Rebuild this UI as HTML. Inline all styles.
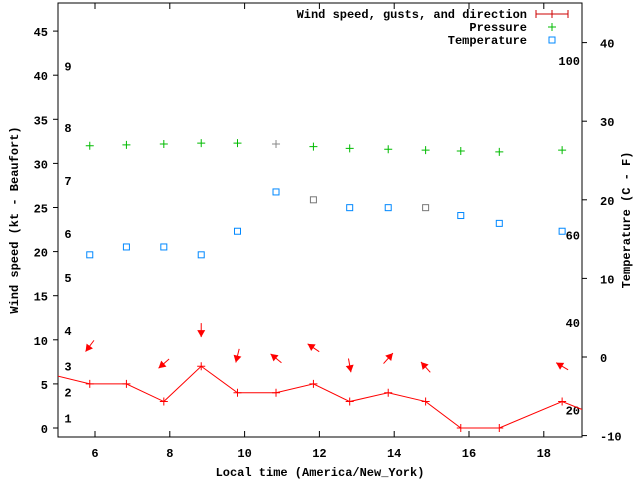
<!DOCTYPE html>
<html><head><meta charset="utf-8"><style>
body{margin:0;background:#fff}
svg{display:block;font-family:"Liberation Mono",monospace;font-weight:bold;font-size:12px}
</style></head><body>
<svg id="c" width="640" height="480" viewBox="0 0 640 480"></svg>
<script>
const hours=[5.86,6.84,7.84,8.84,9.81,10.84,11.84,12.81,13.84,14.84,15.78,16.81,18.49];
const wind=[5,5,3,7,4,4,5,3,4,3,0,0,3];
const pressure=[32.0,32.1,32.2,32.3,32.3,32.2,31.9,31.7,31.6,31.5,31.4,31.3,31.5];
const tempC=[13,14,14,13,16,21,20,19,19,19,18,17,16];
const arrowHours=[5.86,7.84,8.84,9.81,10.84,11.84,12.81,13.84,14.84,18.49];
const arrowKt=[9.3,7.3,11.1,8.2,7.9,9.1,7.1,7.9,6.9,7.0];
const arrowDir=[217,229,180,194,309,304,170,42,318,301];
const lineStart=[4.9,6.0];
const lineEnd=[19.2,1.8];
const xTicks=[6,8,10,12,14,16,18];
const yTicks=[0,5,10,15,20,25,30,35,40,45];
const y2Ticks=[-10,0,10,20,30,40];
const beaufortKt=[1.1,4,7,11,17,22,28,34,41];
const fahrenheit=[20,40,60,100];

const L=58,R=582,T=3,B=437;
const X=h=>95+(h-6)*37.4;
const Y=k=>428-k*8.82;
const Y2=c=>357-c*7.86;
const svg=document.getElementById('c');
const NS='http://www.w3.org/2000/svg';
function mk(t,a,p){const e=document.createElementNS(NS,t);for(const k in a)e.setAttribute(k,a[k]);(p||svg).appendChild(e);return e;}
function txt(x,y,s,anchor,p){const e=mk('text',{x:x,y:y,'text-anchor':anchor||'middle'},p);e.textContent=s;return e;}

const frame=mk('rect',{x:L,y:T,width:R-L,height:B-T,fill:'none',stroke:'#000','stroke-width':1});


xTicks.forEach(h=>{const x=X(h);
 mk('line',{x1:x,y1:B,x2:x,y2:B-6,stroke:'#000'});mk('line',{x1:x,y1:T,x2:x,y2:T+6,stroke:'#000'});
 const t=txt(x,B+20,String(h));});
yTicks.forEach(k=>{const y=Y(k);
 mk('line',{x1:L-5,y1:y,x2:L,y2:y,stroke:'#000'});
 const t=txt(L-10,y+5,String(k),'end');});
y2Ticks.forEach(c=>{const y=Y2(c);
 mk('line',{x1:R,y1:y,x2:R+5,y2:y,stroke:'#000'});
 const t=txt(600,y+5,String(c),'start');});
beaufortKt.forEach((k,i)=>{const t=txt(68,Y(k)+4,String(i+1));
 });
fahrenheit.forEach(f=>{const c=(f-32)*5/9;const t=txt(580,Y2(c)+5,String(f),'end');
 });

let a=txt(320,476,'Local time (America/New_York)');
a=txt(0,0,'Wind speed (kt - Beaufort)');a.setAttribute('transform','translate(18,220) rotate(-90)');
a=txt(0,0,'Temperature (C - F)');a.setAttribute('transform','translate(630,220) rotate(-90)');

// clip
const cp=mk('clipPath',{id:'cl'});mk('rect',{x:L,y:T,width:R-L,height:B-T},cp);
const g=mk('g',{'clip-path':'url(#cl)'});
// wind line
const pts=[[lineStart[0],lineStart[1]]].concat(hours.map((h,i)=>[h,wind[i]])).concat([[lineEnd[0],lineEnd[1]]]);
const wl=mk('polyline',{points:pts.map(p=>X(p[0])+','+Y(p[1])).join(' '),fill:'none',stroke:'#f00','stroke-width':1},g);

function plus(x,y,col,name){const e=mk('path',{d:`M${x-4},${y}h8M${x},${y-4}v8`,stroke:col,'stroke-width':1},g);
 }
hours.forEach((h,i)=>plus(X(h),Y(wind[i]),'#f00','wind-point'));
hours.forEach((h,i)=>plus(X(h),Y(pressure[i]),i==5?'#888':'#0b0','pressure-point'));
hours.forEach((h,i)=>{const e=mk('rect',{x:X(h)-3,y:Y2(tempC[i])-3,width:6,height:6,fill:'none',stroke:(i==6||i==9)?'#777':'#08f','stroke-width':1},g);
 });
arrowHours.forEach((h,i)=>{const cx=X(h),cy=Y(arrowKt[i]);const r=arrowDir[i]*Math.PI/180;
 const dx=Math.sin(r),dy=-Math.cos(r);const hx=cx+dx*7,hy=cy+dy*7,tx=cx-dx*7,ty=cy-dy*7;
 const px=-dy,py=dx;const bx=hx-dx*7,by=hy-dy*7;
 const gr=mk('g',{},g);
 mk('line',{x1:tx,y1:ty,x2:hx,y2:hy,stroke:'#f00'},gr);
 mk('polygon',{points:`${hx},${hy} ${bx+px*4},${by+py*4} ${bx-px*4},${by-py*4}`,fill:'#f00'},gr);});

// legend
const lg=mk('g',{});
txt(527,18,'Wind speed, gusts, and direction','end',lg);txt(527,31,'Pressure','end',lg);txt(527,44,'Temperature','end',lg);
mk('path',{d:'M536,14h32M536,10v8M568,10v8M552,10v8',stroke:'#c00'},lg);
mk('path',{d:'M548,27h8M552,23v8',stroke:'#0b0'},lg);
mk('rect',{x:549,y:37,width:6,height:6,fill:'none',stroke:'#08f'},lg);
</script>
</body></html>
